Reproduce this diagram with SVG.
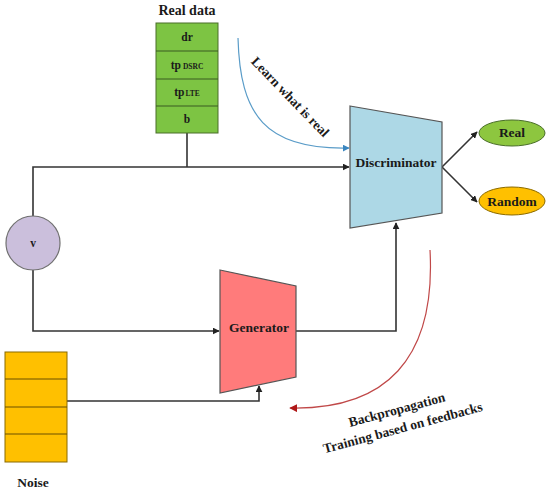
<svg xmlns="http://www.w3.org/2000/svg" width="550" height="493" viewBox="0 0 550 493">
<style>
text{font-family:"Liberation Serif","DejaVu Serif",serif;font-weight:bold;fill:#1a1a1a;text-anchor:middle}
.line{fill:none;stroke:#333;stroke-width:1.6}
.t12{font-size:13.5px}
.t13{font-size:14px}
.t11{font-size:11.5px}
.sub{font-size:7.5px}
</style>
<defs>
<marker id="ah" viewBox="0 0 10 10" refX="9" refY="5" markerWidth="7" markerHeight="7" orient="auto" markerUnits="userSpaceOnUse"><path d="M0,0 L10,5 L0,10 Z" fill="#222"/></marker>
<marker id="ahb" viewBox="0 0 10 10" refX="9" refY="5" markerWidth="7" markerHeight="7" orient="auto" markerUnits="userSpaceOnUse"><path d="M0,0 L10,5 L0,10 Z" fill="#3a86c0"/></marker>
<marker id="ahr" viewBox="0 0 10 10" refX="9" refY="5" markerWidth="8" markerHeight="8" orient="auto" markerUnits="userSpaceOnUse"><path d="M0,0 L10,5 L0,10 Z" fill="#b01818"/></marker>
</defs>
<g id="connectors">
<path class="line" d="M187,133 V167"/>
<path class="line" d="M33,216 V167 H349" marker-end="url(#ah)"/>
<path class="line" d="M33,270 V331 H219" marker-end="url(#ah)"/>
<path class="line" d="M296,331 H396 V223" marker-end="url(#ah)"/>
<path class="line" d="M67,401 H259 V386" marker-end="url(#ah)"/>
<path class="line" d="M442,167 L477,132" marker-end="url(#ah)"/>
<path class="line" d="M442,167 L477,202" marker-end="url(#ah)"/>
<path d="M238,38 C240,115 265,150 349,148" fill="none" stroke="#5a9cc8" stroke-width="1.2" marker-end="url(#ahb)"/>
<path d="M430,250 C436,360 385,410 290,408" fill="none" stroke="#c04848" stroke-width="1.2" marker-end="url(#ahr)"/>
</g>
<g id="realdata">
<text class="t13" x="187" y="15">Real data</text>
<rect x="156" y="23" width="62" height="110" fill="#7dc443" stroke="#4a6e2a" stroke-width="1"/>
<path d="M156,51 H218 M156,79 H218 M156,106 H218" stroke="#3a5a22" stroke-width="1.2"/>
<text class="t11" x="187" y="41">dr</text>
<text class="t11" x="187" y="69">tp<tspan class="sub" dx="2">DSRC</tspan></text>
<text class="t11" x="187" y="96">tp<tspan class="sub" dx="1">LTE</tspan></text>
<text class="t11" x="187" y="123">b</text>
</g>
<g id="v">
<circle cx="33" cy="243" r="27" fill="#cbbfdc" stroke="#707070" stroke-width="1.2"/>
<text class="t11" x="33" y="247">v</text>
</g>
<g id="generator">
<path d="M220,270 L296,286 L296,377 L220,393 Z" fill="#ff7b7b" stroke="#555" stroke-width="1.2"/>
<text class="t12" x="259" y="332">Generator</text>
</g>
<g id="discriminator">
<path d="M350,106 L442,122 L442,213 L350,228 Z" fill="#add8e6" stroke="#555" stroke-width="1.2"/>
<text class="t12" x="396" y="167">Discriminator</text>
</g>
<g id="real">
<ellipse cx="512" cy="133" rx="33" ry="13" fill="#8dc63f" stroke="#4a6e2a" stroke-width="1"/>
<text class="t12" x="512" y="137">Real</text>
</g>
<g id="random">
<ellipse cx="512" cy="201" rx="33" ry="14" fill="#ffc000" stroke="#8a6a00" stroke-width="1"/>
<text class="t12" x="512" y="205.5">Random</text>
</g>
<g id="noise">
<rect x="5" y="352" width="62" height="110" fill="#ffc000" stroke="#8a6a00" stroke-width="1"/>
<path d="M5,379 H67 M5,407 H67 M5,434 H67" stroke="#6a5000" stroke-width="1"/>
<text class="t12" x="33" y="487">Noise</text>
</g>
<g id="labels">
<text class="t12" transform="translate(287,100) rotate(46)">Learn what is real</text>
<text class="t12" transform="translate(398,414) rotate(-15)">Backpropagation</text>
<text class="t12" transform="translate(404,432) rotate(-15)">Training based on feedbacks</text>
</g>
</svg>
